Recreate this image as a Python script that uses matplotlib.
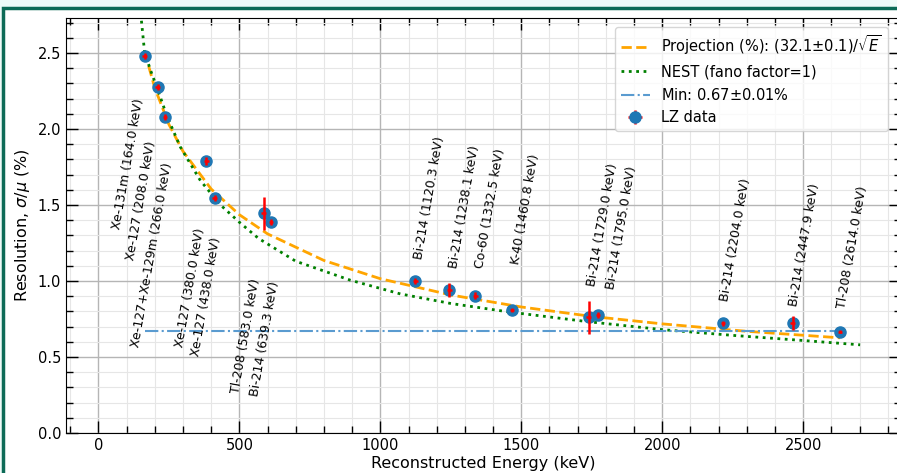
import numpy as np
import matplotlib
matplotlib.use("Agg")
import matplotlib.pyplot as plt
from matplotlib.patches import Rectangle
from matplotlib.ticker import MultipleLocator

# LZ data (reconstructed energy, resolution)
energy = [164, 210, 237, 383, 412, 586, 612, 1124, 1245, 1337, 1467, 1739, 1772, 2215, 2463, 2631]
resol = [2.482, 2.274, 2.077, 1.789, 1.548, 1.445, 1.386, 1.000, 0.941, 0.904, 0.809, 0.761, 0.776, 0.721, 0.721, 0.667]
resol_err = [0.02, 0.02, 0.02, 0.025, 0.02, 0.11, 0.02, 0.02, 0.047, 0.025, 0.015, 0.11, 0.02, 0.015, 0.046, 0.01]
energy_err = [8] * len(energy)

peak_names = ["Xe-131m (164.0 keV)", "Xe-127 (208.0 keV)", "Xe-127+Xe-129m (266.0 keV)",
              "Xe-127 (380.0 keV)", "Xe-127 (438.0 keV)", "Tl-208 (583.0 keV)",
              "Bi-214 (639.3 keV)", "Bi-214 (1120.3 keV)", "Bi-214 (1238.1 keV)",
              "Co-60 (1332.5 keV)", "K-40 (1460.8 keV)", "Bi-214 (1729.0 keV)",
              "Bi-214 (1795.0 keV)", "Bi-214 (2204.0 keV)", "Bi-214 (2447.9 keV)",
              "Tl-208 (2614.0 keV)"]
# label centres
lab_x = [106, 150, 190, 326, 382, 524, 590, 1174, 1298, 1390, 1514, 1788, 1856, 2259, 2504, 2675]
lab_y = [1.77, 1.53, 1.17, 0.954, 0.897, 0.64, 0.62, 1.549, 1.49, 1.48, 1.47, 1.37, 1.35, 1.27, 1.24, 1.22]

# projection curve, (32.1)/sqrt(E)
proj_e = [164, 200, 250, 300, 400, 500, 600, 800, 1000, 1250, 1500, 1750, 2000, 2300, 2631]
proj_r = [2.507, 2.270, 2.030, 1.853, 1.605, 1.436, 1.310, 1.135, 1.015, 0.908, 0.829, 0.767, 0.718, 0.669, 0.626]

# NEST curve
nest_e = [150, 164, 190, 210, 244, 291, 362, 433, 504, 568, 700, 894, 1071, 1250, 1461, 1733, 2000, 2252, 2489, 2702]
nest_r = [2.76, 2.50, 2.36, 2.26, 2.08, 1.88, 1.66, 1.50, 1.38, 1.28, 1.13, 1.005, 0.915, 0.852, 0.795, 0.733, 0.680, 0.642, 0.610, 0.580]

min_res = 0.67

fig = plt.figure(figsize=(8.97, 4.73), dpi=100)
fig.patch.set_facecolor("#effbf9")
fig.patches.append(Rectangle((3/897, -0.05), 1.0, 1 - 8/473 + 0.05, transform=fig.transFigure,
                             facecolor="white", edgecolor="#0d6b57", lw=2.5, zorder=-10))

ax = fig.add_axes([66/897, 1 - 433/473, 835/897, 415/473])

ax.plot(proj_e, proj_r, ls="--", color="orange", lw=2, label=r"Projection (%): (32.1$\pm$0.1)/$\sqrt{E}$")
ax.plot(nest_e, nest_r, ls=":", color="green", lw=2, label="NEST (fano factor=1)")
ax.plot([energy[0], energy[-1]], [min_res, min_res], ls="-.", color="#5a9bd0", lw=1.5,
        label=r"Min: 0.67$\pm$0.01%")
eb = ax.errorbar(energy, resol, yerr=resol_err, xerr=energy_err, fmt="o", color="tab:blue",
                 ms=8, ecolor="red", elinewidth=1.8, label="LZ data")
for lc in eb[2]:
    lc.set_zorder(3)

for name, lx, ly in zip(peak_names, lab_x, lab_y):
    ax.text(lx, ly, name, rotation=80, ha="center", va="center", fontsize=9)

ax.set_xlim(-115, 2847)
ax.set_ylim(0, 2.73)
ax.xaxis.set_major_locator(MultipleLocator(500))
ax.xaxis.set_minor_locator(MultipleLocator(100))
ax.yaxis.set_major_locator(MultipleLocator(0.5))
ax.yaxis.set_minor_locator(MultipleLocator(0.1))
ax.tick_params(which="both", direction="in", top=True, right=True, labelsize=10.5)
ax.tick_params(which="major", length=8.5, width=1)
ax.tick_params(which="minor", length=5, width=1)
ax.grid(which="major", color="#b5b5b5", lw=1)
ax.grid(which="minor", color="#e6e6e6", lw=0.8)
ax.set_axisbelow(True)

ax.set_xlabel("Reconstructed Energy (keV)", fontsize=11.5, labelpad=2)
ax.set_ylabel(r"Resolution, $\sigma/\mu$ (%)", fontsize=11.5)

ax.legend(loc="upper right", fontsize=10.5, bbox_to_anchor=(0.993, 0.995))

fig.savefig("out.png", dpi=100, facecolor=fig.get_facecolor())
